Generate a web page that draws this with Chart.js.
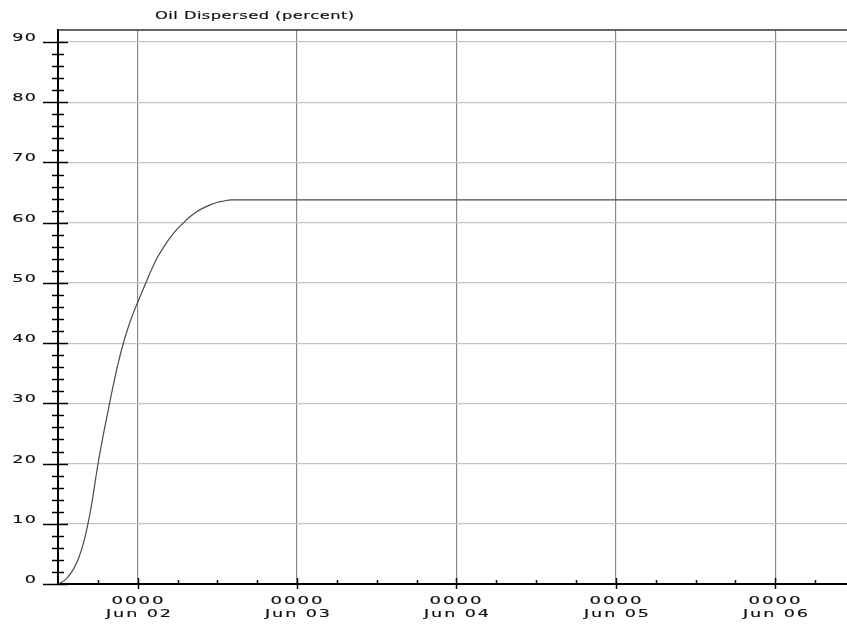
<!DOCTYPE html>
<html>
<head>
<meta charset="utf-8">
<title>Oil Dispersed</title>
<script src="https://cdn.jsdelivr.net/npm/chart.js@4.4.1/dist/chart.umd.min.js"></script>
<style>
  html, body { margin: 0; padding: 0; background: #fff; }
  #wrap { position: relative; width: 847px; height: 628px; }
</style>
</head>
<body>
<div id="wrap"><canvas id="chart"></canvas></div>
<script>
// hours relative to 0000 Jun 02
const hours = [-12, -11, -10, -9, -8, -7, -6, -5, -4, -3, -2, -1, 0, 1, 2, 3, 4, 5, 6,
               7, 8, 9, 10, 11, 12, 13, 14, 15, 24, 48, 72, 96, 106.8];
const dispersed = [0, 0.6, 1.9, 4.0, 7.5, 12.8, 19.8, 25.8, 31.3, 36.4, 40.6, 44.0, 46.8, 49.4, 52.0, 54.3, 56.1, 57.7, 59.0,
                   60.1, 61.1, 61.9, 62.5, 63.0, 63.4, 63.6, 63.8, 63.8, 63.8, 63.8, 63.8, 63.8, 63.8];

const dayHours = [0, 24, 48, 72, 96];
const dayLabels = ['Jun 02', 'Jun 03', 'Jun 04', 'Jun 05', 'Jun 06'];
const timeLabel = '0000';
const yTicks = [0, 10, 20, 30, 40, 50, 60, 70, 80, 90];
const chartTitle = 'Oil Dispersed (percent)';

const FONT = '"DejaVu Sans", sans-serif';

// stretched, spaced text like the old plotter output, laid out one glyph at a time
function wideText(ctx, text, x, y, align, size, sx, spacing) {
  ctx.save();
  ctx.font = size + 'px ' + FONT;
  ctx.textBaseline = 'alphabetic';
  ctx.textAlign = 'left';
  ctx.fillStyle = '#111';
  ctx.strokeStyle = '#111';
  ctx.lineWidth = 0.15;
  const chars = Array.from(text);
  const adv = chars.map(c => (ctx.measureText(c).width + spacing) * sx);
  const w = adv.reduce((s, a) => s + a, 0) - spacing * sx;
  let cx = x;
  if (align === 'center') cx = x - w / 2;
  if (align === 'right') cx = x - w;
  chars.forEach((c, i) => {
    ctx.save();
    ctx.translate(cx, y);
    ctx.scale(sx, 1);
    ctx.fillText(c, 0, 0);
    ctx.strokeText(c, 0, 0);
    ctx.restore();
    cx += adv[i];
  });
  ctx.restore();
}

const frame = {
  id: 'frame',
  afterDraw(chart) {
    const { ctx, chartArea: a, scales: { x, y } } = chart;
    ctx.save();

    // top rule
    ctx.lineWidth = 1.5;
    ctx.strokeStyle = '#333';
    ctx.beginPath();
    ctx.moveTo(a.left, a.top);
    ctx.lineTo(a.right, a.top);
    ctx.stroke();

    // y ticks: minor every 2, major every 10
    ctx.strokeStyle = '#000';
    ctx.lineWidth = 1.5;
    for (let v = 2; v <= 90; v += 2) {
      if (v % 10 === 0) continue;
      const py = Math.round(y.getPixelForValue(v)) + 0.5;
      ctx.beginPath();
      ctx.moveTo(a.left - 6, py);
      ctx.lineTo(a.left + 6, py);
      ctx.stroke();
    }
    yTicks.forEach(v => {
      const py = Math.round(y.getPixelForValue(v)) + 0.5;
      ctx.beginPath();
      ctx.moveTo(a.left - 15, py);
      ctx.lineTo(a.left + 10, py);
      ctx.stroke();
      wideText(ctx, String(v), a.left - 22, py - 2, 'right', 11, 1.6, 0.8);
    });

    // x ticks: minor every 6 h, major at each day
    for (let h = -6; h < x.max; h += 6) {
      if (dayHours.includes(h)) continue;
      const px = Math.round(x.getPixelForValue(h)) + 0.5;
      ctx.beginPath();
      ctx.moveTo(px, a.bottom - 4);
      ctx.lineTo(px, a.bottom + 1);
      ctx.stroke();
    }
    dayHours.forEach((h, i) => {
      const px = Math.round(x.getPixelForValue(h)) + 0.5;
      ctx.beginPath();
      ctx.moveTo(px, a.bottom - 6);
      ctx.lineTo(px, a.bottom + 5);
      ctx.stroke();
      wideText(ctx, timeLabel, px - 1, a.bottom + 20, 'center', 11, 1.65, 1.2);
      wideText(ctx, dayLabels[i], px, a.bottom + 33, 'center', 11, 1.6, 1.2);
    });

    wideText(ctx, chartTitle, 155, 19, 'left', 10.5, 1.55, 0.3);
    ctx.restore();
  }
};

new Chart(document.getElementById('chart'), {
  type: 'line',
  data: {
    datasets: [{
      label: chartTitle,
      data: hours.map((h, i) => ({ x: h, y: dispersed[i] })),
      borderColor: '#4a4a4a',
      borderWidth: 1.2,
      pointRadius: 0,
      cubicInterpolationMode: 'monotone',
      fill: false
    }]
  },
  options: {
    animation: false,
    responsive: true,
    maintainAspectRatio: false,
    devicePixelRatio: 1,
    layout: { padding: { left: 58, top: 30, right: 0, bottom: 44 } },
    plugins: { legend: { display: false }, title: { display: false }, tooltip: { enabled: false } },
    scales: {
      x: {
        type: 'linear',
        min: -12,
        max: 106.8,
        afterBuildTicks: s => { s.ticks = dayHours.map(v => ({ value: v })); },
        ticks: { display: false },
        grid: { color: '#8a8a8a', lineWidth: 1.2, drawTicks: false },
        border: { display: true, color: '#000', width: 2 }
      },
      y: {
        min: 0,
        max: 92,
        afterBuildTicks: s => { s.ticks = yTicks.map(v => ({ value: v })); },
        ticks: { display: false },
        grid: { color: '#c4c4c4', lineWidth: 1.2, drawTicks: false },
        border: { display: true, color: '#000', width: 2 }
      }
    }
  },
  plugins: [frame]
});
</script>
</body>
</html>
